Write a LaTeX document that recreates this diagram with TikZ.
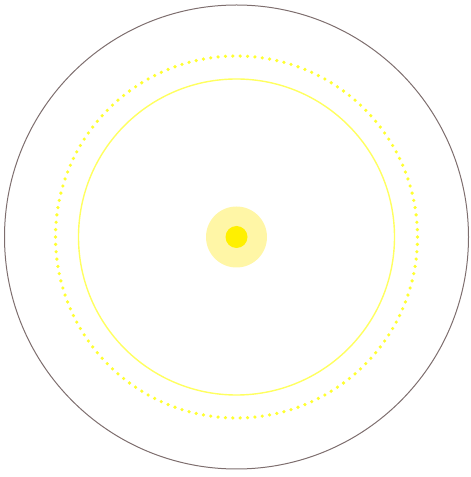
\documentclass[tikz,border=0pt]{standalone}
\usetikzlibrary{calc}
\definecolor{rim}{HTML}{7E6E6E}
\definecolor{orbit}{HTML}{FFFF30}
\definecolor{ring}{HTML}{FFFF60}
\definecolor{glow}{HTML}{FFF6A6}
\definecolor{star}{HTML}{FFF000}
\tikzset{
  rimline/.style={draw=rim, line width=1pt},
  ringline/.style={draw=ring, line width=1.4pt},
  orbitdot/.style={fill=orbit},
}

\begin{document}
\begin{tikzpicture}[x=1pt, y=1pt]
\useasboundingbox (0,0) rectangle (471,477);
\coordinate (c) at (236.5,240);

% outer rim
\draw[rimline] (c) circle[radius=232];

% dotted orbit, 154 dots
\foreach \k in {0,...,153}
  \fill[orbitdot] ($(c)+({\k*(360/154)}:181)$) circle[radius=1.8];

% solid ring
\draw[ringline] (c) circle[radius=158];

% glow and star
\fill[glow] (c) circle[radius=30.5];
\fill[star] (c) circle[radius=11];

\end{tikzpicture}
\end{document}
